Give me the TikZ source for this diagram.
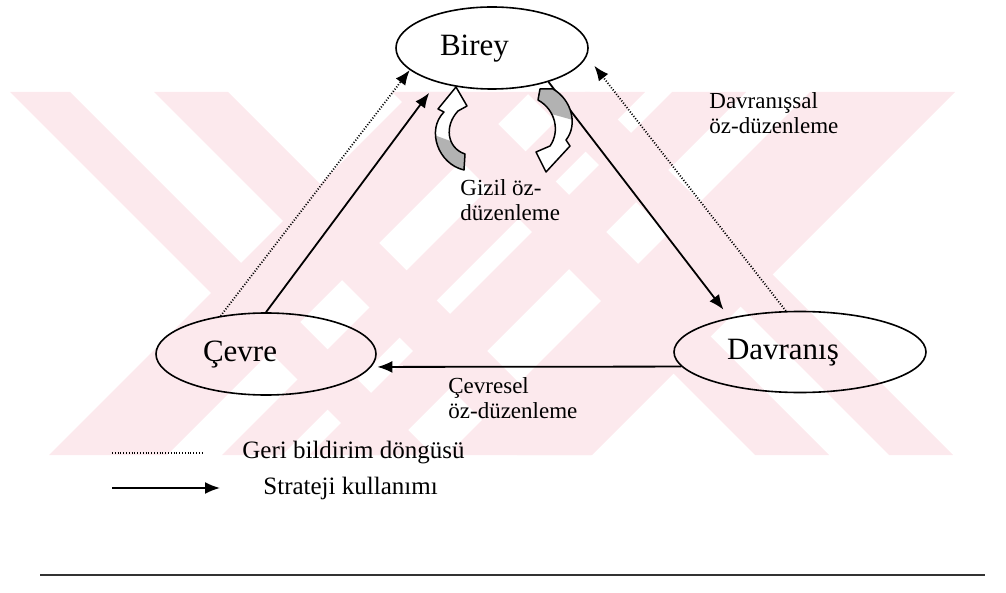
\documentclass[tikz,border=0pt]{standalone}
\usepackage{fontspec}
\setmainfont{Liberation Serif}
\usepackage{tikz}
\usetikzlibrary{positioning,arrows.meta,shapes.geometric}
\tikzset{>={Latex[width=6pt,length=7.5pt]}}
\tikzset{
	kutu/.style={draw,ellipse,line width=0.8pt,inner sep=0pt,align=left,text height=11pt,text depth=3.5pt,font=\fontsize{15.5}{17}\selectfont},
	etiket/.style={inner sep=0pt,align=left,font=\fontsize{11.5}{12.5}\selectfont},
	lejant/.style={inner sep=0pt,font=\fontsize{12.5}{14}\selectfont},
	strateji/.style={line width=0.9pt,->},
	noktali/.style={line width=0.9pt,dash pattern=on 0.5pt off 0.9pt},
	geri/.style={noktali,->},
	kivrim/.style={line width=0.75pt,line join=round}
}
\definecolor{filigran}{RGB}{252,233,237}
\definecolor{golge}{RGB}{178,178,178}
\newcommand{\solkivrim}{(464,170) .. controls (438,164) and (426,130) .. (444,112) -- (438,109) -- (456,87) -- (467,106) -- (458,111) .. controls (444,126) and (447,148) .. (465,154) -- cycle}
\newcommand{\sagkivrim}{(538,100) -- (540,89) -- (553,89) .. controls (572,100) and (578,125) .. (566,140) -- (570,146) -- (546,172) -- (536,152) -- (550,146) .. controls (560,132) and (556,110) .. (538,100) -- cycle}

\begin{document}
\begin{tikzpicture}[x=0.5pt,y=-0.5pt]
		\useasboundingbox (0,0) rectangle (1006,593);
		% filigran
		\foreach \a/\b in {10/70,154/228,392/466,526/590}
			\fill[filigran] (\a,92) -- (\b,92) -- ({\b+363},455) -- ({\a+363},455) -- cycle;
		\foreach \a/\b in {412/530,585/645,672/746,810/955}
			\fill[filigran] (\a,92) -- (\b,92) -- ({\b-363},455) -- ({\a-363},455) -- cycle;

		\node(B) [kutu, minimum width=96pt, minimum height=41pt, text width=52pt] at (492,48)	{Birey};
		\node(C) [kutu, minimum width=110pt, minimum height=41pt, text width=63pt] at (266,354)	{Çevre};
		\node(D) [kutu, minimum width=126pt, minimum height=40.5pt, text width=73pt] at (800,352)	{Davranış};

		\draw[strateji, shorten >=6.5pt](C.north) -- (B.212);
		\draw[geri](C.140) -- (B.195);
		\draw[strateji, shorten >=5pt](B.329) -- (D.154);
		\draw[geri, shorten >=6pt](D.109) -- (B.355);
		\draw[strateji, shorten >=3pt](D.187) -- (C.353);

		% gizil oz-duzenleme oklari
		\fill[white] \solkivrim;
		\begin{scope}
			\clip \solkivrim;
			\fill[golge] (420,130) -- (470,148) -- (470,180) -- (420,180) -- cycle;
		\end{scope}
		\draw[kivrim] \solkivrim;
		\fill[white] \sagkivrim;
		\begin{scope}
			\clip \sagkivrim;
			\fill[golge] (530,80) -- (580,80) -- (580,122) -- (530,108) -- cycle;
		\end{scope}
		\draw[kivrim] \sagkivrim;

		\node(E1) [etiket, anchor=north west] at (709,92)		{Davranışsal\\öz-düzenleme};
		\node(E2) [etiket, anchor=north west] at (460,179)		{Gizil öz-\\düzenleme};
		\node(E3) [etiket, anchor=north west] at (448,377)		{Çevresel\\öz-düzenleme};

		% lejant
		\coordinate(L1) at (112,453);
		\coordinate(L2) at (203,453);
		\coordinate(L3) at (112,488);
		\coordinate(L4) at (220,488);
		\draw[noktali](L1) -- (L2);
		\draw[strateji](L3) -- (L4);
		\node(G1) [lejant, right=19.5pt of L2]	{Geri bildirim döngüsü};
		\node(G2) [lejant, right=21.5pt of L4]	{Strateji kullanımı};

		\draw[line width=1pt, black!80] (40,575) -- (985,575);
	\end{tikzpicture}
\end{document}
